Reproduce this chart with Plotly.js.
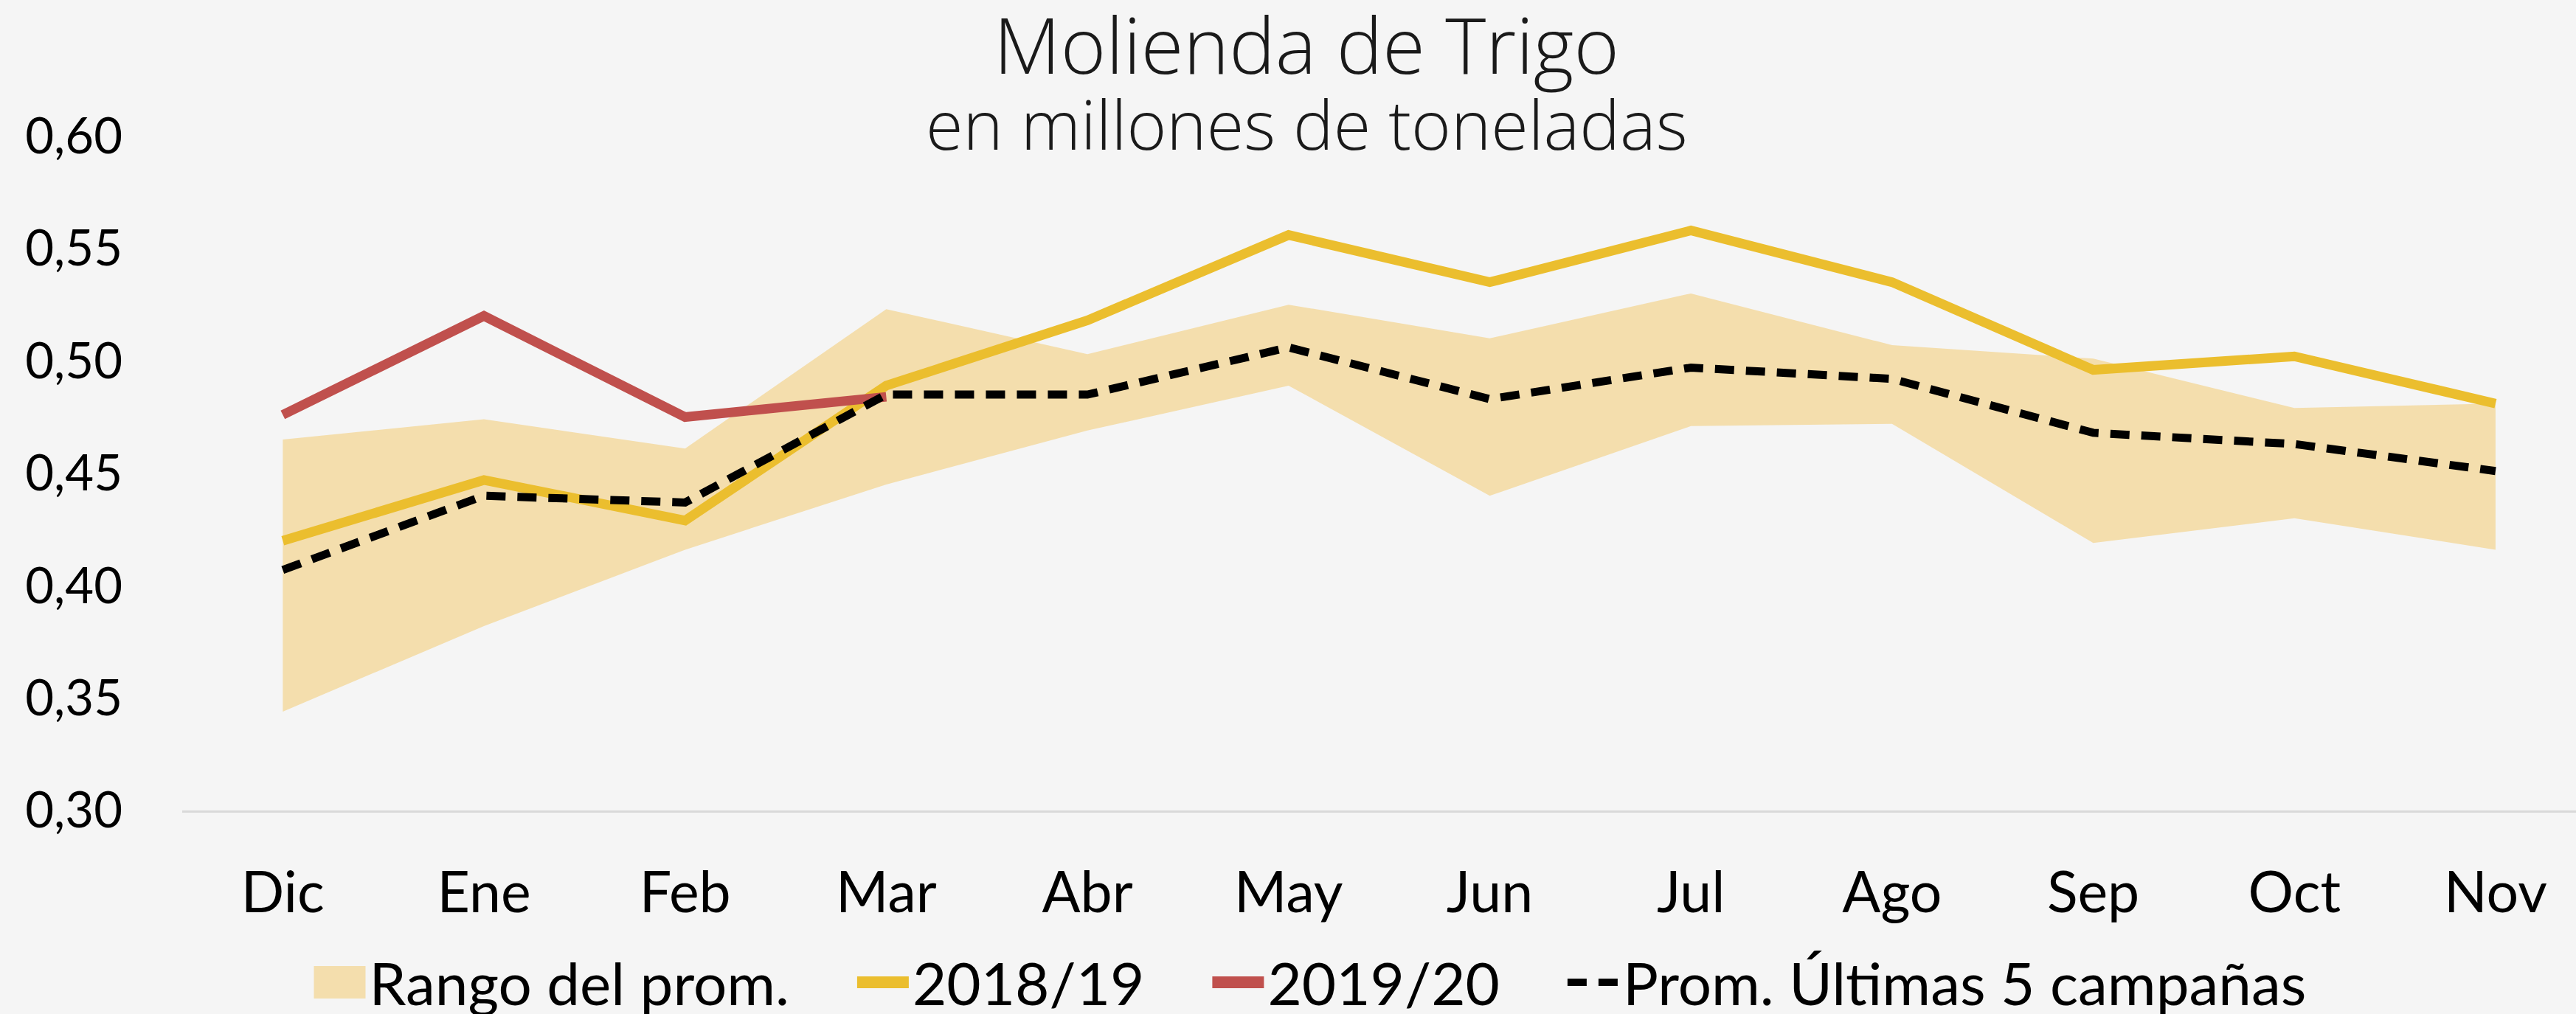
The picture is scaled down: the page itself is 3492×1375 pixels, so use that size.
<!DOCTYPE html>
<html>
<head>
<meta charset="utf-8">
<script src="https://cdn.plot.ly/plotly-3.0.1.min.js"></script>
<style>
html,body{margin:0;padding:0;background:#F5F5F5;}
#chart{width:3492px;height:1375px;}
</style>
</head>
<body>
<div id="chart"></div>
<script>
const meses = ["Dic","Ene","Feb","Mar","Abr","May","Jun","Jul","Ago","Sep","Oct","Nov"];
const rangoMax = [0.465,0.474,0.461,0.523,0.503,0.525,0.510,0.530,0.507,0.501,0.479,0.481];
const rangoMin = [0.344,0.382,0.416,0.445,0.469,0.489,0.440,0.471,0.472,0.419,0.430,0.416];
const camp1819 = [0.420,0.447,0.429,0.489,0.518,0.556,0.535,0.558,0.535,0.496,0.502,0.481];
const camp1920 = [0.476,0.520,0.475,0.484];
const prom5 = [0.407,0.440,0.437,0.485,0.485,0.506,0.483,0.497,0.492,0.468,0.463,0.451];
const yTicks = [0.30,0.35,0.40,0.45,0.50,0.55,0.60];
const yTickText = ["0,30","0,35","0,40","0,45","0,50","0,55","0,60"];
const titulo = "Molienda de Trigo";
const subtitulo = "en millones de toneladas";

const FONT = "Lato, 'Open Sans', sans-serif";
const TFONT = "'Open Sans', Lato, sans-serif";
const PAD = "\u00A0\u00A0\u00A0\u00A0";
const BAND = "#F4DEAD";

// polygon of the band built from the two series
const bandX = meses.concat(meses.slice().reverse());
const bandY = rangoMax.concat(rangoMin.slice().reverse());

const traces = [
  {x: bandX, y: bandY, type:"scatter", mode:"lines", fill:"toself", fillcolor:BAND, line:{width:0, color:BAND}, showlegend:false, hoverinfo:"skip"},
  // legend swatch for the band (on a hidden axis so only its legend entry shows)
  {x: meses, y: rangoMax, yaxis:"y2", type:"scatter", mode:"lines", name:"Rango del prom." + PAD, line:{width:44, color:BAND}, hoverinfo:"skip"},
  {x: meses, y: camp1819, type:"scatter", mode:"lines", name:"2018/19" + PAD, line:{width:13, color:"#EBBE2E"}},
  {x: meses.slice(0, camp1920.length), y: camp1920, type:"scatter", mode:"lines", name:"2019/20" + PAD, line:{width:13, color:"#C0504D"}},
  {x: meses, y: prom5, type:"scatter", mode:"lines", name:"Prom. Últimas 5 campañas", line:{width:11, color:"#000000", dash:"26px,16px"}}
];

const layout = {
  width: 3492, height: 1375,
  paper_bgcolor: "#F5F5F5", plot_bgcolor: "#F5F5F5",
  margin: {l:247, r:0, t:183, b:276},
  font: {family: FONT, color:"#000000"},
  title: {
    text: titulo,
    font: {family: TFONT, size: 105, weight: 300, color:"#1a1a1a"},
    x: 1771/3492, xanchor: "center", xref: "container",
    y: 1 - 63/1375, yanchor: "middle", yref: "container"
  },
  annotations: [{
    text: subtitulo, xref: "paper", yref: "paper",
    x: (1771-247)/(3492-247), xanchor: "center",
    y: 1 + (183-168)/916, yanchor: "middle",
    showarrow: false,
    font: {family: TFONT, size: 92, weight: 300, color:"#1a1a1a"}
  }],
  xaxis: {
    type: "category", range: [-0.5, 11.4], showgrid: false, zeroline: false,
    showline: true, linecolor: "#D9D9D9", linewidth: 3,
    ticks: "", tickfont: {family: FONT, size: 77, color:"#000000"},
    ticklabelstandoff: 43
  },
  yaxis: {
    range: [0.30, 0.6005], showgrid: false, zeroline: false, showline: false,
    tickvals: yTicks, ticktext: yTickText, ticks: "",
    tickfont: {family: FONT, size: 67, color:"#000000"},
    ticklabelstandoff: 80
  },
  yaxis2: {
    overlaying: "y", range: [5, 6], visible: false, showgrid: false, zeroline: false
  },
  legend: {
    orientation: "h", xref: "container", x: 1776/3492, xanchor: "center",
    yref: "container", y: 1 - 1332/1375, yanchor: "middle",
    font: {family: FONT, size: 80, color:"#000000"}, bgcolor: "rgba(0,0,0,0)",
    itemwidth: 70, traceorder: "normal"
  },
  showlegend: true
};

Plotly.newPlot("chart", traces, layout, {displayModeBar:false, staticPlot:true}).then(function(gd){
  // legend swatches: thick box for the band, thicker strokes for the season lines
  const widths = ["44px", "16px", "16px"];
  const items = gd.querySelectorAll(".legend .traces");
  widths.forEach(function(w, i){
    if (items[i]) items[i].querySelectorAll("path.js-line").forEach(function(p){ p.style.strokeWidth = w; });
  });
});
</script>
</body>
</html>
